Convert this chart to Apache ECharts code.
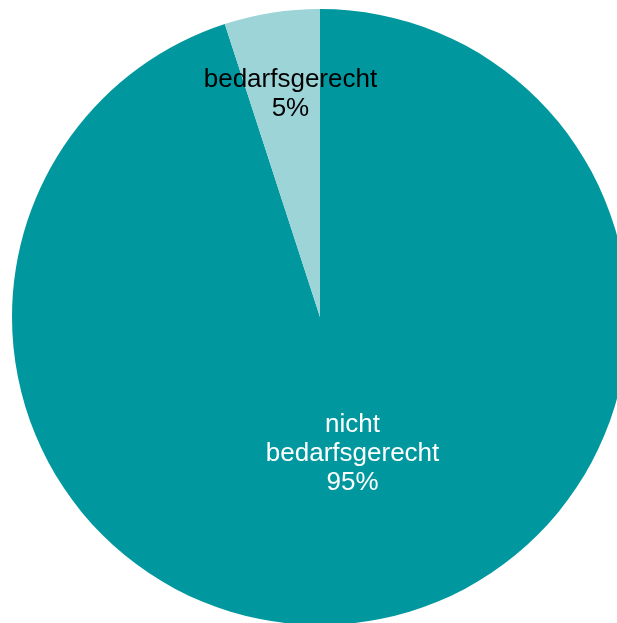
<!DOCTYPE html>
<html><head><meta charset="utf-8">
<script src="https://cdn.jsdelivr.net/npm/echarts@6/dist/echarts.min.js"></script>
<style>html,body{margin:0;padding:0;background:#fff}#c{width:617px;height:623px}</style>
</head><body><div id="c"></div>
<script>
const categories = ['nicht\nbedarfsgerecht', 'bedarfsgerecht'];
const values = [95, 5];
const colors = ['#00989e', '#9dd4d8'];
const labelColors = ['#ffffff', '#000000'];
const labelShift = [[8, -18], [-5, -68]];

const chart = echarts.init(document.getElementById('c'), null, {renderer: 'canvas'});
chart.setOption({
  animation: false,
  series: [{
    type: 'pie',
    center: [320, 317],
    radius: [0, 308],
    startAngle: 90,
    clockwise: true,
    silent: true,
    data: categories.map((n, i) => ({
      name: n, value: values[i],
      itemStyle: {color: colors[i]},
      label: {color: labelColors[i]}
    })),
    label: {
      show: true,
      position: 'inside',
      formatter: p => p.name + '\n' + p.value + '%',
      fontFamily: 'Liberation Sans, Arial, sans-serif',
      fontSize: 26,
      lineHeight: 29,
      align: 'center'
    },
    labelLine: {show: false},
    labelLayout: p => ({dx: labelShift[p.dataIndex][0], dy: labelShift[p.dataIndex][1]}),
    itemStyle: {borderWidth: 0}
  }]
});
</script></body></html>
